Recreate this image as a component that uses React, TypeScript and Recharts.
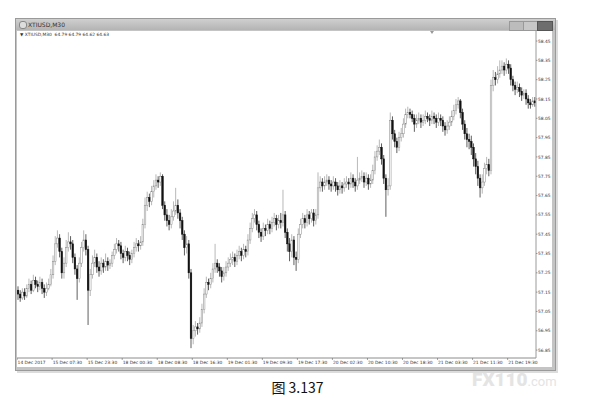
import React from 'react';
import { ComposedChart, Bar, XAxis, YAxis } from 'recharts';

// XTIUSD M30 candles
const opens = [
  57.16, 57.14, 57.12, 57.15, 57.13, 57.17, 57.19, 57.16, 57.21, 57.19, 57.18, 57.20, 57.17, 57.15, 57.17, 57.19,
  57.24, 57.31, 57.40, 57.43, 57.36, 57.25, 57.30, 57.38, 57.41, 57.40, 57.33, 57.27, 57.22, 57.30, 57.38, 57.42,
  57.37, 57.16, 57.24, 57.30, 57.33, 57.28, 57.26, 57.30, 57.28, 57.31, 57.29, 57.30, 57.34, 57.37, 57.40, 57.39,
  57.35, 57.33, 57.36, 57.34, 57.32, 57.35, 57.38, 57.40, 57.39, 57.41, 57.50, 57.60, 57.64, 57.62, 57.67, 57.70,
  57.73, 57.72, 57.75, 57.60, 57.55, 57.52, 57.50, 57.54, 57.57, 57.60, 57.56, 57.52, 57.45, 57.38, 57.40, 57.25,
  56.91, 56.95, 56.97, 56.96, 56.99, 57.06, 57.14, 57.20, 57.19, 57.22, 57.27, 57.30, 57.28, 57.26, 57.23, 57.25,
  57.28, 57.30, 57.32, 57.33, 57.31, 57.34, 57.36, 57.34, 57.37, 57.36, 57.42, 57.48, 57.53, 57.55, 57.50, 57.46,
  57.44, 57.48, 57.47, 57.50, 57.48, 57.51, 57.53, 57.50, 57.52, 57.51, 57.55, 57.46, 57.40, 57.36, 57.42, 57.33,
  57.32, 57.45, 57.50, 57.53, 57.51, 57.55, 57.53, 57.56, 57.52, 57.55, 57.69, 57.72, 57.70, 57.72, 57.73, 57.71,
  57.70, 57.72, 57.70, 57.68, 57.70, 57.69, 57.71, 57.72, 57.71, 57.74, 57.72, 57.70, 57.73, 57.74, 57.75, 57.72,
  57.74, 57.71, 57.73, 57.78, 57.85, 57.88, 57.90, 57.84, 57.74, 57.68, 57.70, 58.04, 57.97, 57.93, 57.90, 57.95,
  57.97, 58.02, 58.07, 58.08, 58.07, 58.05, 58.02, 58.04, 58.05, 58.03, 58.04, 58.06, 58.05, 58.04, 58.06, 58.05,
  58.03, 58.05, 58.04, 58.01, 57.99, 58.01, 58.03, 58.06, 58.09, 58.12, 58.14, 58.08, 58.02, 57.97, 57.94, 57.93,
  57.90, 57.84, 57.80, 57.74, 57.69, 57.72, 57.79, 57.81, 57.78, 58.22, 58.26, 58.25, 58.28, 58.30, 58.32, 58.30,
  58.33, 58.31, 58.25, 58.22, 58.20, 58.21, 58.19, 58.17, 58.18, 58.15, 58.13, 58.12, 58.14,
];

const highs = [
  57.18, 57.16, 57.17, 57.17, 57.19, 57.22, 57.21, 57.24, 57.23, 57.21, 57.23, 57.22, 57.19, 57.20, 57.22, 57.27,
  57.34, 57.44, 57.47, 57.45, 57.38, 57.33, 57.42, 57.46, 57.44, 57.42, 57.35, 57.29, 57.33, 57.41, 57.47, 57.45,
  57.39, 57.27, 57.34, 57.37, 57.35, 57.31, 57.33, 57.32, 57.35, 57.33, 57.32, 57.36, 57.40, 57.43, 57.42, 57.41,
  57.37, 57.39, 57.38, 57.36, 57.37, 57.41, 57.43, 57.42, 57.44, 57.53, 57.64, 57.67, 57.66, 57.70, 57.73, 57.76,
  57.75, 57.77, 57.76, 57.62, 57.58, 57.55, 57.58, 57.62, 57.69, 57.63, 57.58, 57.54, 57.47, 57.44, 57.42, 57.27,
  56.98, 57.00, 56.99, 57.02, 57.09, 57.17, 57.23, 57.22, 57.25, 57.30, 57.40, 57.32, 57.30, 57.28, 57.28, 57.31,
  57.33, 57.35, 57.36, 57.35, 57.37, 57.39, 57.38, 57.40, 57.39, 57.45, 57.51, 57.56, 57.58, 57.57, 57.52, 57.48,
  57.51, 57.50, 57.53, 57.52, 57.54, 57.56, 57.55, 57.55, 57.56, 57.68, 57.57, 57.48, 57.43, 57.45, 57.44, 57.36,
  57.48, 57.53, 57.56, 57.55, 57.58, 57.57, 57.58, 57.58, 57.58, 57.77, 57.75, 57.74, 57.75, 57.76, 57.75, 57.73,
  57.75, 57.74, 57.72, 57.73, 57.72, 57.74, 57.75, 57.74, 57.77, 57.76, 57.74, 57.85, 57.77, 57.78, 57.77, 57.77,
  57.76, 57.76, 57.81, 57.88, 57.91, 57.94, 57.92, 57.86, 57.76, 57.74, 58.08, 58.06, 57.99, 57.95, 57.98, 58.00,
  58.05, 58.10, 58.11, 58.10, 58.09, 58.07, 58.07, 58.08, 58.07, 58.07, 58.09, 58.08, 58.07, 58.09, 58.08, 58.07,
  58.08, 58.07, 58.06, 58.03, 58.04, 58.06, 58.09, 58.12, 58.15, 58.16, 58.15, 58.10, 58.04, 58.00, 57.97, 57.96,
  57.92, 57.87, 57.83, 57.76, 57.76, 57.82, 57.85, 57.84, 58.25, 58.30, 58.29, 58.32, 58.35, 58.35, 58.34, 58.36,
  58.35, 58.33, 58.27, 58.24, 58.24, 58.23, 58.21, 58.20, 58.20, 58.17, 58.15, 58.16, 58.16,
];

const lows = [
  57.11, 57.10, 57.11, 57.11, 57.12, 57.15, 57.14, 57.15, 57.17, 57.15, 57.16, 57.14, 57.12, 57.13, 57.16, 57.18,
  57.22, 57.29, 57.38, 57.33, 57.22, 57.22, 57.28, 57.36, 57.37, 57.30, 57.24, 57.11, 57.20, 57.28, 57.36, 57.34,
  56.98, 57.13, 57.22, 57.28, 57.25, 57.23, 57.24, 57.25, 57.26, 57.26, 57.27, 57.28, 57.32, 57.35, 57.36, 57.32,
  57.30, 57.31, 57.31, 57.29, 57.30, 57.33, 57.36, 57.36, 57.37, 57.39, 57.48, 57.57, 57.59, 57.60, 57.64, 57.68,
  57.69, 57.70, 57.58, 57.52, 57.49, 57.47, 57.48, 57.52, 57.55, 57.53, 57.48, 57.42, 57.34, 57.35, 57.22, 56.86,
  56.88, 56.92, 56.93, 56.94, 56.97, 57.04, 57.12, 57.16, 57.17, 57.20, 57.25, 57.25, 57.23, 57.20, 57.21, 57.23,
  57.26, 57.28, 57.29, 57.28, 57.29, 57.32, 57.31, 57.32, 57.33, 57.34, 57.40, 57.46, 57.51, 57.47, 57.43, 57.41,
  57.42, 57.44, 57.45, 57.45, 57.46, 57.49, 57.47, 57.48, 57.48, 57.49, 57.43, 57.36, 57.31, 57.33, 57.29, 57.26,
  57.30, 57.43, 57.48, 57.48, 57.49, 57.50, 57.51, 57.49, 57.50, 57.53, 57.67, 57.67, 57.68, 57.70, 57.68, 57.67,
  57.68, 57.67, 57.65, 57.66, 57.66, 57.67, 57.69, 57.68, 57.69, 57.69, 57.67, 57.68, 57.71, 57.72, 57.69, 57.70,
  57.68, 57.69, 57.71, 57.76, 57.83, 57.86, 57.81, 57.71, 57.54, 57.65, 57.68, 57.94, 57.90, 57.87, 57.88, 57.93,
  57.95, 58.00, 58.05, 58.05, 58.03, 57.98, 58.00, 58.02, 58.00, 58.01, 58.02, 58.03, 58.01, 58.02, 58.02, 58.00,
  58.01, 58.01, 57.98, 57.96, 57.97, 57.99, 58.01, 58.04, 58.07, 58.10, 58.05, 57.99, 57.94, 57.90, 57.89, 57.86,
  57.80, 57.76, 57.70, 57.64, 57.66, 57.70, 57.76, 57.75, 57.76, 58.19, 58.22, 58.23, 58.26, 58.28, 58.27, 58.28,
  58.28, 58.22, 58.19, 58.17, 58.18, 58.16, 58.14, 58.15, 58.12, 58.10, 58.10, 58.11, 58.11,
];

const closes = [
  57.14, 57.12, 57.15, 57.13, 57.17, 57.19, 57.16, 57.21, 57.19, 57.18, 57.20, 57.17, 57.15, 57.17, 57.19, 57.24,
  57.31, 57.40, 57.43, 57.36, 57.25, 57.30, 57.38, 57.41, 57.40, 57.33, 57.27, 57.22, 57.30, 57.38, 57.42, 57.37,
  57.16, 57.24, 57.30, 57.33, 57.28, 57.26, 57.30, 57.28, 57.31, 57.29, 57.30, 57.34, 57.37, 57.40, 57.39, 57.35,
  57.33, 57.36, 57.34, 57.32, 57.35, 57.38, 57.40, 57.39, 57.41, 57.50, 57.60, 57.64, 57.62, 57.67, 57.70, 57.73,
  57.72, 57.75, 57.60, 57.55, 57.52, 57.50, 57.54, 57.57, 57.60, 57.56, 57.52, 57.45, 57.38, 57.40, 57.25, 56.91,
  56.95, 56.97, 56.96, 56.99, 57.06, 57.14, 57.20, 57.19, 57.22, 57.27, 57.30, 57.28, 57.26, 57.23, 57.25, 57.28,
  57.30, 57.32, 57.33, 57.31, 57.34, 57.36, 57.34, 57.37, 57.36, 57.42, 57.48, 57.53, 57.55, 57.50, 57.46, 57.44,
  57.48, 57.47, 57.50, 57.48, 57.51, 57.53, 57.50, 57.52, 57.51, 57.55, 57.46, 57.40, 57.36, 57.42, 57.33, 57.32,
  57.45, 57.50, 57.53, 57.51, 57.55, 57.53, 57.56, 57.52, 57.55, 57.69, 57.72, 57.70, 57.72, 57.73, 57.71, 57.70,
  57.72, 57.70, 57.68, 57.70, 57.69, 57.71, 57.72, 57.71, 57.74, 57.72, 57.70, 57.73, 57.74, 57.75, 57.72, 57.74,
  57.71, 57.73, 57.78, 57.85, 57.88, 57.90, 57.84, 57.74, 57.68, 57.70, 58.04, 57.97, 57.93, 57.90, 57.95, 57.97,
  58.02, 58.07, 58.08, 58.07, 58.05, 58.02, 58.04, 58.05, 58.03, 58.04, 58.06, 58.05, 58.04, 58.06, 58.05, 58.03,
  58.05, 58.04, 58.01, 57.99, 58.01, 58.03, 58.06, 58.09, 58.12, 58.14, 58.08, 58.02, 57.97, 57.94, 57.93, 57.90,
  57.84, 57.80, 57.74, 57.69, 57.72, 57.79, 57.81, 57.78, 58.22, 58.26, 58.25, 58.28, 58.30, 58.32, 58.30, 58.33,
  58.31, 58.25, 58.22, 58.20, 58.21, 58.19, 58.17, 58.18, 58.15, 58.13, 58.12, 58.14, 58.13,
];

// time labels, one every 16 bars
const timeLabels = [
  '14 Dec 2017', '15 Dec 07:30', '15 Dec 23:30', '18 Dec 00:30', '18 Dec 08:30', '18 Dec 16:30', '19 Dec 01:30',
  '19 Dec 09:30', '19 Dec 17:30', '20 Dec 02:30', '20 Dec 10:30', '20 Dec 18:30', '21 Dec 03:30', '21 Dec 11:30',
  '21 Dec 19:30',
];
const labelStep = 16;

const priceTicks = [
  56.85, 56.95, 57.05, 57.15, 57.25, 57.35, 57.45, 57.55, 57.65, 57.75, 57.85, 57.95, 58.05, 58.15, 58.25, 58.35, 58.45,
];

const data = closes.map((c, i) => ({
  idx: i,
  open: opens[i],
  high: highs[i],
  low: lows[i],
  close: c,
  range: [lows[i], highs[i]],
}));

const tickIdx = timeLabels.map((_, k) => k * labelStep);

const smallFont = '"DejaVu Sans", sans-serif';

function Candle(props: any) {
  const { x, y, width, height, payload } = props;
  if (x == null || y == null) return null;
  const { open, close, high, low } = payload;
  const top = Math.min(y, y + height);
  const h = Math.abs(height);
  const ppu = h / (high - low);
  const cx = x + width / 2;
  const yO = top + (high - open) * ppu;
  const yC = top + (high - close) * ppu;
  const bull = close >= open;
  const bTop = Math.min(yO, yC);
  const bH = Math.max(Math.abs(yC - yO), 0.8);
  return (
    <g>
      <line x1={cx} x2={cx} y1={top} y2={top + h} stroke={bull ? '#999' : '#1a1a1a'} strokeWidth={0.7} />
      <rect
        x={cx - 0.8}
        y={bTop}
        width={1.6}
        height={bH}
        fill={bull ? '#ffffff' : '#111111'}
        stroke={bull ? '#8a8a8a' : '#111111'}
        strokeWidth={0.5}
      />
    </g>
  );
}

function TimeTick(props: any) {
  const { x, y, payload } = props;
  const label = timeLabels[payload.value / labelStep];
  return (
    <g>
      <line x1={x - 1} x2={x - 1} y1={y} y2={y + 2} stroke="#666" strokeWidth={0.6} />
      <text x={x - 0.5} y={y + 6} fontSize={4.4} fontFamily={smallFont} fill="#333">
        {label}
      </text>
    </g>
  );
}

function PriceTick(props: any) {
  const { x, y, payload } = props;
  return (
    <g>
      <line x1={x} x2={x + 1.5} y1={y} y2={y} stroke="#666" strokeWidth={0.6} />
      <text x={x + 2} y={y + 1.6} fontSize={4.4} fontFamily={smallFont} fill="#333">
        {payload.value.toFixed(2)}
      </text>
    </g>
  );
}

export default function App() {
  return (
    <div style={{ position: 'absolute', left: 0, top: 0, width: 595, height: 413, background: '#fff', overflow: 'hidden' }}>
      {/* window frame */}
      <div
        style={{
          position: 'absolute',
          left: 15,
          top: 18,
          width: 539,
          height: 351,
          background: '#c4c4c4',
          border: '1px solid #9a9a9a',
          boxShadow: '2px 2px 0 #dcdcdc',
        }}
      />
      {/* title bar */}
      <div
        style={{
          position: 'absolute',
          left: 16,
          top: 19,
          width: 539,
          height: 11,
          background: 'linear-gradient(#cfcfcf, #b4b4b4)',
        }}
      />
      <div style={{ position: 'absolute', left: 19, top: 21, width: 6, height: 6, borderRadius: 3, border: '1px solid #888', background: '#ddd' }} />
      <div style={{ position: 'absolute', left: 28, top: 20, fontFamily: smallFont, fontSize: 6, color: '#333', lineHeight: '9px' }}>
        XTIUSD,M30
      </div>
      <div style={{ position: 'absolute', left: 509, top: 21, width: 13, height: 8, background: '#bcbcbc', border: '1px solid #999' }} />
      <div style={{ position: 'absolute', left: 523, top: 21, width: 13, height: 8, background: '#c8c8c8', border: '1px solid #999' }} />
      <div style={{ position: 'absolute', left: 537, top: 21, width: 14, height: 8, background: '#6e6e6e', border: '1px solid #555' }} />
      {/* client area */}
      <div style={{ position: 'absolute', left: 17, top: 31, width: 535, height: 336, background: '#fff' }} />
      <div style={{ position: 'absolute', left: 17, top: 31 }}>
        <ComposedChart
          width={535}
          height={336}
          data={data}
          margin={{ top: 0, right: 0, bottom: 0, left: 0 }}
          barCategoryGap={0}
        >
          <XAxis
            dataKey="idx"
            type="category"
            ticks={tickIdx}
            interval={0}
            height={9}
            tickSize={0}
            tickMargin={0}
            axisLine={{ stroke: '#8c8c8c', strokeWidth: 1 }}
            tickLine={false}
            tick={<TimeTick />}
          />
          <YAxis
            orientation="right"
            type="number"
            width={16}
            domain={[56.809, 58.502]}
            allowDataOverflow
            ticks={priceTicks}
            interval={0}
            tickSize={0}
            tickMargin={0}
            axisLine={{ stroke: '#9a9a9a', strokeWidth: 1 }}
            tickLine={false}
            tick={<PriceTick />}
          />
          <Bar dataKey="range" shape={<Candle />} isAnimationActive={false} />
        </ComposedChart>
      </div>
      {/* symbol line */}
      <div style={{ position: 'absolute', left: 20, top: 31, fontFamily: smallFont, fontSize: 4.4, color: '#333', lineHeight: '7px', whiteSpace: 'nowrap' }}>
        ▼ XTIUSD,M30&nbsp; 64.79 64.79 64.62 64.63
      </div>
      <div
        style={{
          position: 'absolute',
          left: 430,
          top: 31,
          width: 0,
          height: 0,
          borderLeft: '2px solid transparent',
          borderRight: '2px solid transparent',
          borderTop: '3px solid #999',
        }}
      />
      {/* watermark */}
      <div style={{ position: 'absolute', left: 472, top: 370, fontFamily: 'Roboto, sans-serif', fontWeight: 900, fontSize: 19, color: '#e4e4e4', lineHeight: '20px', whiteSpace: 'nowrap' }}>
        FX110<span style={{ fontSize: 13, fontWeight: 400 }}>.com</span>
      </div>
      {/* caption */}
      <div
        style={{
          position: 'absolute',
          left: 0,
          top: 378,
          width: 595,
          textAlign: 'center',
          fontFamily: '"Noto Sans CJK SC", sans-serif',
          fontSize: 14,
          color: '#111',
          lineHeight: '18px',
        }}
      >
        图 3.137
      </div>
    </div>
  );
}
